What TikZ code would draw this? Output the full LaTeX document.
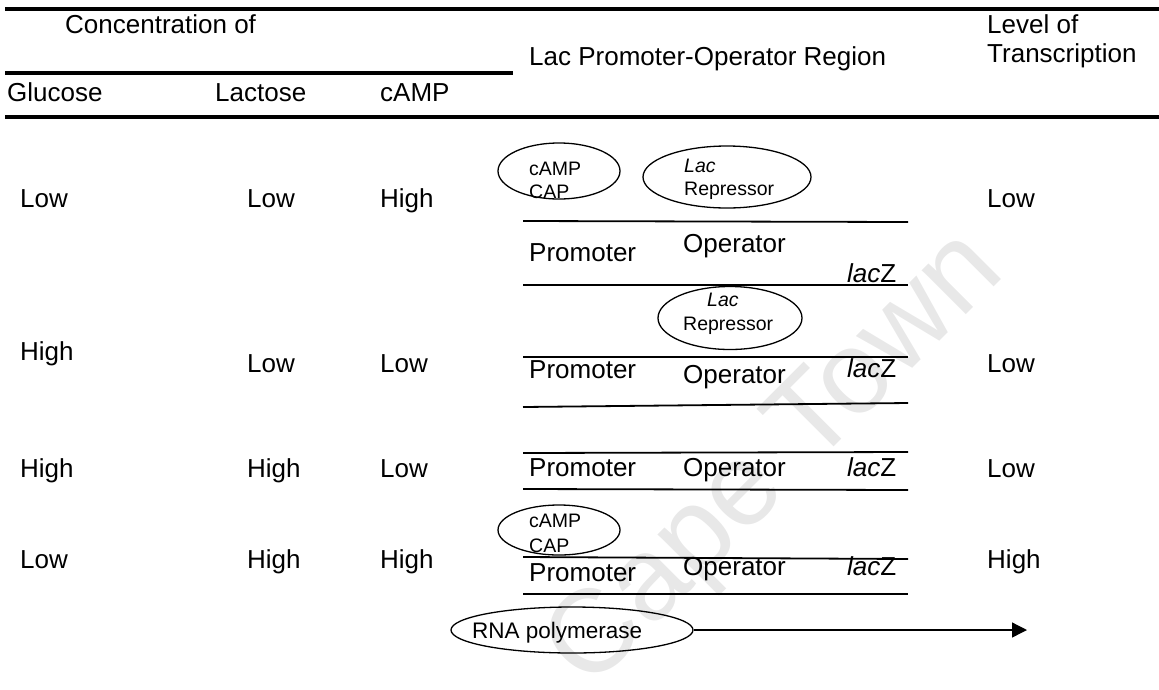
\documentclass[tikz,border=0pt]{standalone}
\usepackage{fontspec}
\setmainfont{Liberation Sans}
\usetikzlibrary{shapes.geometric,arrows.meta}

\tikzset{
  txt/.style={font=\fontsize{26}{30}\selectfont, inner sep=0pt, anchor=base west},
  smalltxt/.style={font=\fontsize{19.5}{22}\selectfont, inner sep=0pt, anchor=base west},
  rnatxt/.style={font=\fontsize{22.5}{26}\selectfont, inner sep=0pt, anchor=base west},
  tablerule/.style={line width=4pt},
  strand/.style={line width=1.8pt},
  blob/.style={draw, ellipse, line width=1.3pt, inner sep=0pt},
  watermark/.style={font=\fontsize{118}{120}\selectfont, text=black!9, inner sep=0pt}
}

\begin{document}
\begin{tikzpicture}[x=1pt,y=-1pt]
\useasboundingbox (0,0) rectangle (1159,689);

% faint background stamp
\node[watermark, rotate=45] (stamp) at (778,462) {Cape Town};

% table rules
\draw[tablerule] (5,9) -- (1159,9);
\draw[tablerule] (5,73) -- (513,73);
\draw[tablerule] (5,117) -- (1159,117);

% header
\node[txt] (hconc) at (65,33) {Concentration of};
\node[txt] (hlevel) at (987,33) {Level of};
\node[txt] (htrans) at (987,62) {Transcription};
\node[txt] (hregion) at (529,65) {Lac Promoter-Operator Region};
\node[txt] (hglu) at (7,101) {Glucose};
\node[txt] (hlac) at (215,101) {Lactose};
\node[txt] (hcamp) at (380,101) {cAMP};

% row 1
\node[txt] (r1a) at (20,207) {Low};
\node[txt] (r1b) at (247,207) {Low};
\node[txt] (r1c) at (380,207) {High};
\node[txt] (r1d) at (987,207) {Low};
\node[blob, minimum width=122pt, minimum height=56pt] (cap1) at (559,171) {};
\node[smalltxt] (cap1a) at (529,175) {cAMP};
\node[smalltxt] (cap1b) at (529,198) {CAP};
\node[blob, minimum width=168pt, minimum height=62pt] (rep1) at (727,177) {};
\node[smalltxt] (rep1a) at (684,172) {\itshape Lac};
\node[smalltxt] (rep1b) at (684,195) {Repressor};
\draw[strand] (523,221) -- (908,222);
\draw[strand] (523,285) -- (908,285);
\node[txt] (p1) at (529,261) {Promoter};
\node[txt] (o1) at (683,252) {Operator};
\node[txt] (z1) at (847,282) {\textit{lac}Z};

% row 2
\node[txt] (r2a) at (20,360) {High};
\node[txt] (r2b) at (247,372) {Low};
\node[txt] (r2c) at (380,372) {Low};
\node[txt] (r2d) at (987,372) {Low};
\node[blob, minimum width=144pt, minimum height=63pt] (rep2) at (730,318) {};
\node[smalltxt] (rep2a) at (707,306) {\itshape Lac};
\node[smalltxt] (rep2b) at (683,330) {Repressor};
\draw[strand] (523,357) -- (908,357);
\draw[strand] (523,407) -- (908,403);
\node[txt] (p2) at (529,378) {Promoter};
\node[txt] (o2) at (683,383) {Operator};
\node[txt] (z2) at (847,377) {\textit{lac}Z};

% row 3
\node[txt] (r3a) at (20,477) {High};
\node[txt] (r3b) at (247,477) {High};
\node[txt] (r3c) at (380,477) {Low};
\node[txt] (r3d) at (987,477) {Low};
\draw[strand] (523,453) -- (908,452);
\draw[strand] (523,489) -- (908,490);
\node[txt] (p3) at (529,476) {Promoter};
\node[txt] (o3) at (683,476) {Operator};
\node[txt] (z3) at (847,476) {\textit{lac}Z};

% row 4
\node[txt] (r4a) at (20,568) {Low};
\node[txt] (r4b) at (247,568) {High};
\node[txt] (r4c) at (380,568) {High};
\node[txt] (r4d) at (987,568) {High};
\node[blob, minimum width=122pt, minimum height=50pt] (cap2) at (559,530) {};
\node[smalltxt] (cap2a) at (529,527) {cAMP};
\node[smalltxt] (cap2b) at (529,552) {CAP};
\draw[strand] (523,557) -- (908,559);
\draw[strand] (523,594) -- (908,594);
\node[txt] (p4) at (529,581) {Promoter};
\node[txt] (o4) at (683,575) {Operator};
\node[txt] (z4) at (847,575) {\textit{lac}Z};

% polymerase and direction of transcription
\node[blob, minimum width=242pt, minimum height=46pt] (rnap) at (572,630) {};
\node[rnatxt] (rnalabel) at (472,638) {RNA polymerase};
\coordinate (txend) at (1027,630);
\draw[line width=1.3pt, -{Triangle[length=15pt,width=15pt]}] (rnap.east) -- (txend);
\end{tikzpicture}
\end{document}
